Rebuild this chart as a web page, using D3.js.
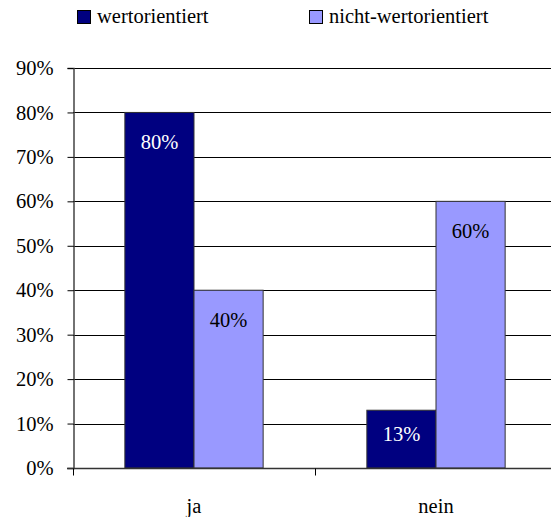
<!DOCTYPE html>
<html>
<head>
<meta charset="utf-8">
<script src="https://cdn.jsdelivr.net/npm/d3@7"></script>
<style>
  body { margin: 0; background: #fff; }
</style>
</head>
<body>
<div id="chart"></div>
<script>
// Daten
const categories = ["ja", "nein"];
const seriesNames = ["wertorientiert", "nicht-wertorientiert"];
const wertorientiert = [80, 13];
const nichtWertorientiert = [40, 60];
const yTicks = [0, 10, 20, 30, 40, 50, 60, 70, 80, 90];

const colors = ["#000080", "#9999ff"];
const labelColors = ["#ffffff", "#000000"];
const FONT = "Liberation Serif";
const FS = 20.5;

const width = 551, height = 517;
const margin = { top: 68, left: 73, bottom: 49 };
const plotRight = 557;

const svg = d3.select("#chart").append("svg")
  .attr("width", width)
  .attr("height", height)
  .attr("font-family", FONT);

const x = d3.scaleBand()
  .domain(categories)
  .range([margin.left, plotRight]);

const x1 = d3.scaleBand()
  .domain(seriesNames)
  .range([0, x.bandwidth()])
  .paddingOuter(0.75)
  .paddingInner(0);

const y = d3.scaleLinear()
  .domain([0, 90])
  .range([height - margin.bottom, margin.top]);

// Gitterlinien
svg.append("g")
  .selectAll("line")
  .data(yTicks.filter(d => d > 0))
  .join("line")
  .attr("x1", margin.left)
  .attr("x2", width)
  .attr("y1", d => Math.round(y(d)) + 0.5)
  .attr("y2", d => Math.round(y(d)) + 0.5)
  .attr("stroke", "#000")
  .attr("stroke-width", 1);

// Balken
const rows = categories.map((c, i) => ({
  cat: c,
  values: [wertorientiert[i], nichtWertorientiert[i]]
}));

const groups = svg.append("g")
  .selectAll("g")
  .data(rows)
  .join("g")
  .attr("transform", d => `translate(${x(d.cat)},0)`);

groups.selectAll("rect")
  .data(d => d.values.map((v, j) => ({ v, j })))
  .join("rect")
  .attr("x", d => x1(seriesNames[d.j]))
  .attr("y", d => y(d.v))
  .attr("width", x1.bandwidth())
  .attr("height", d => y(0) - y(d.v))
  .attr("fill", d => colors[d.j])
  .attr("stroke", "#333")
  .attr("stroke-width", 1);

// Beschriftung innen oben, bei kurzen Balken etwas höher
groups.selectAll("text")
  .data(d => d.values.map((v, j) => ({ v, j })))
  .join("text")
  .attr("x", d => x1(seriesNames[d.j]) + x1.bandwidth() / 2)
  .attr("y", d => y(d.v) + Math.min(37, (y(0) - y(d.v)) * 0.54))
  .attr("text-anchor", "middle")
  .attr("font-family", FONT)
  .attr("font-size", FS)
  .attr("fill", d => labelColors[d.j])
  .text(d => d.v + "%");

// Y-Achse
const axisY = d3.axisLeft(y)
  .tickValues(yTicks)
  .tickSize(6)
  .tickPadding(14)
  .tickFormat(d => d + "%");

const gy = svg.append("g")
  .attr("transform", `translate(${margin.left + 0.5},0)`)
  .call(axisY)
  .attr("font-family", FONT)
  .attr("font-size", FS);
gy.select(".domain").attr("stroke", "#444").attr("stroke-width", 1.5);
gy.selectAll(".tick line").attr("stroke", "#000");
gy.selectAll(".tick text").attr("fill", "#000");

// X-Achse
const gx = svg.append("g")
  .attr("transform", `translate(0,${Math.round(y(0)) + 0.5})`);
gx.append("line")
  .attr("x1", margin.left - 6)
  .attr("x2", width)
  .attr("stroke", "#333")
  .attr("stroke-width", 1.5);
gx.selectAll(".sep")
  .data(categories.map(c => x(c)).concat([plotRight]))
  .join("line")
  .attr("class", "sep")
  .attr("x1", d => d + 0.5)
  .attr("x2", d => d + 0.5)
  .attr("y1", 0)
  .attr("y2", 7)
  .attr("stroke", "#000");
gx.selectAll("text")
  .data(categories)
  .join("text")
  .attr("x", d => x(d) + x.bandwidth() / 2)
  .attr("y", 44)
  .attr("text-anchor", "middle")
  .attr("font-family", FONT)
  .attr("font-size", FS)
  .text(d => d);

// Legende
const legendX = [77, 309];
const legend = svg.append("g")
  .selectAll("g")
  .data(seriesNames)
  .join("g")
  .attr("transform", (d, i) => `translate(${legendX[i]},10)`);
legend.append("rect")
  .attr("x", 0.5)
  .attr("y", 0.5)
  .attr("width", 13)
  .attr("height", 13)
  .attr("fill", (d, i) => colors[i])
  .attr("stroke", "#000");
legend.append("text")
  .attr("x", 20)
  .attr("y", 13)
  .attr("font-family", FONT)
  .attr("font-size", FS)
  .text(d => d);
</script>
</body>
</html>
